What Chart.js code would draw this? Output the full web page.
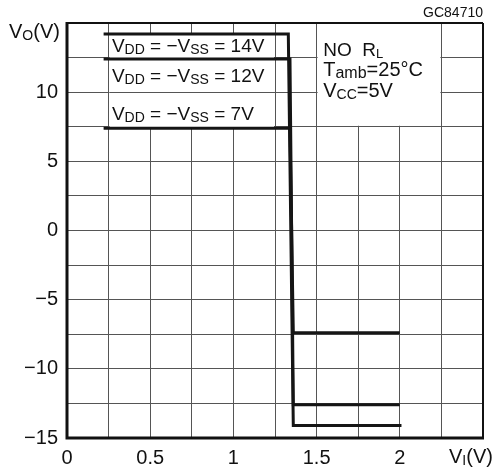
<!DOCTYPE html>
<html>
<head>
<meta charset="utf-8">
<script src="https://cdn.jsdelivr.net/npm/chart.js@4/dist/chart.umd.min.js"></script>
<style>
  html, body { margin: 0; padding: 0; background: #fff; }
  #wrap { width: 499px; height: 476px; }
</style>
</head>
<body>
<div id="wrap"><canvas id="chart"></canvas></div>
<script>
// transfer curves V_O vs V_I, one per supply voltage
const supplies = [14, 12, 7];
const xPoints14 = [0.22, 1.33, 1.36, 2.01];
const yPoints14 = [14.2, 14.2, -14.1, -14.1];
const xPoints12 = [0.22, 1.34, 1.36, 2.0];
const yPoints12 = [12.4, 12.4, -12.6, -12.6];
const xPoints7 = [0.22, 1.34, 1.36, 2.0];
const yPoints7 = [7.4, 7.4, -7.4, -7.4];

const xTicksShown = [0, 0.5, 1, 1.5, 2];
const yTicksShown = [-15, -10, -5, 0, 5, 10];

const FONT = "'Liberation Sans Narrow', 'Liberation Sans', Arial, sans-serif";
const FONT_REG = "'Liberation Sans', Arial, sans-serif";

function toPoints(xs, ys) {
    return xs.map((x, i) => ({ x: x, y: ys[i] }));
}

// text with subscripts: parts = [[text, isSub], ...]
function rich(ctx, x, y, parts, size, subSize, font) {
    let cx = x;
    for (const [t, sub] of parts) {
        ctx.font = (sub ? subSize : size) + 'px ' + font;
        ctx.fillText(t, cx, sub ? y + 2 : y);
        cx += ctx.measureText(t).width;
    }
}

const annot = {
    id: 'annot',
    beforeDatasetsDraw(chart) {
        const { ctx, scales: { x, y } } = chart;
        ctx.save();
        ctx.fillStyle = '#fff';
        // label area on the left: vertical grid hidden
        const lx0 = x.getPixelForValue(0.25) + 1, lx1 = x.getPixelForValue(1.25) - 1;
        const ly0 = y.getPixelForValue(14.2), ly1 = y.getPixelForValue(7.4);
        ctx.fillRect(lx0, ly0, lx1 - lx0, ly1 - ly0);
        ctx.strokeStyle = '#555';
        ctx.lineWidth = 1;
        ctx.beginPath();
        const y10 = Math.round(y.getPixelForValue(10)) + 0.5;
        ctx.moveTo(lx0, y10);
        ctx.lineTo(lx1, y10);
        ctx.stroke();
        // conditions box on the right
        const rx0 = x.getPixelForValue(1.5) + 1, rx1 = x.getPixelForValue(2.25) - 1;
        const ry0 = y.getPixelForValue(15) + 1, ry1 = y.getPixelForValue(7.5) - 1;
        ctx.fillRect(rx0, ry0, rx1 - rx0, ry1 - ry0);
        ctx.restore();
    },
    afterDatasetsDraw(chart) {
        const { ctx, chartArea: a, scales: { x, y } } = chart;
        ctx.save();
        // frame
        ctx.strokeStyle = '#111';
        ctx.lineWidth = 2;
        ctx.beginPath();
        ctx.moveTo(a.left, a.top); ctx.lineTo(a.right, a.top);
        ctx.moveTo(a.right, a.top); ctx.lineTo(a.right, a.bottom);
        ctx.stroke();
        ctx.lineWidth = 3;
        ctx.beginPath();
        ctx.moveTo(a.left, a.top - 1); ctx.lineTo(a.left, a.bottom);
        ctx.lineTo(a.right + 1, a.bottom);
        ctx.stroke();

        ctx.fillStyle = '#111';
        ctx.textBaseline = 'alphabetic';
        ctx.textAlign = 'left';
        const lx = x.getPixelForValue(0.27);
        const labelY = [12.9, 10.74, 7.98];
        supplies.forEach((v, i) => {
            rich(ctx, lx, y.getPixelForValue(labelY[i]),
                [['V'], ['DD', 1], [' = \u2212V'], ['SS', 1], [' = ' + v + 'V']], 19, 14, FONT_REG);
        });

        const bx = x.getPixelForValue(1.54);
        rich(ctx, bx, 56, [['NO  R'], ['L', 1]], 19, 13, FONT_REG);
        rich(ctx, bx, 76, [['T'], ['amb', 1], ['=25\u00b0C']], 20, 16, FONT_REG);
        rich(ctx, bx, 97, [['V'], ['CC', 1], ['=5V']], 20, 14, FONT_REG);

        // axis titles
        rich(ctx, 9, 38, [['V'], ['O', 1], ['(V)']], 20, 14, FONT_REG);
        rich(ctx, 449, 463, [['V'], ['I', 1], ['(V)']], 20, 14, FONT_REG);

        ctx.font = '14px ' + FONT_REG;
        ctx.textAlign = 'right';
        ctx.fillText('GC84710', 483, 17);
        ctx.restore();
    }
};

const lineStyle = {
    borderColor: '#151515',
    borderWidth: 3,
    pointRadius: 0,
    fill: false,
    tension: 0
};

new Chart(document.getElementById('chart'), {
    type: 'scatter',
    data: {
        datasets: [
            Object.assign({ label: '14V', data: toPoints(xPoints14, yPoints14), showLine: true }, lineStyle),
            Object.assign({ label: '12V', data: toPoints(xPoints12, yPoints12), showLine: true }, lineStyle),
            Object.assign({ label: '7V', data: toPoints(xPoints7, yPoints7), showLine: true }, lineStyle)
        ]
    },
    options: {
        responsive: true,
        maintainAspectRatio: false,
        animation: false,
        layout: { padding: { left: 0, right: 16, top: 23, bottom: 0 } },
        plugins: {
            legend: { display: false },
            tooltip: { enabled: false }
        },
        scales: {
            x: {
                type: 'linear',
                min: 0,
                max: 2.5,
                afterFit: s => { s.height = 38; },
                ticks: {
                    stepSize: 0.25,
                    autoSkip: false,
                    maxRotation: 0,
                    padding: 8,
                    color: '#111',
                    font: { family: FONT, size: 20 },
                    callback: v => xTicksShown.includes(v) ? String(v) : ''
                },
                grid: { color: '#555', lineWidth: 1, drawTicks: false },
                border: { display: false }
            },
            y: {
                type: 'linear',
                min: -15,
                max: 15,
                afterFit: s => { s.width = 67; },
                ticks: {
                    stepSize: 2.5,
                    autoSkip: false,
                    padding: 9,
                    color: '#111',
                    font: { family: FONT, size: 20 },
                    callback: v => yTicksShown.includes(v) ? (v < 0 ? '\u2212' + Math.abs(v) : String(v)) : ''
                },
                grid: { color: '#555', lineWidth: 1, drawTicks: false },
                border: { display: false }
            }
        }
    },
    plugins: [annot]
});
</script>
</body>
</html>
